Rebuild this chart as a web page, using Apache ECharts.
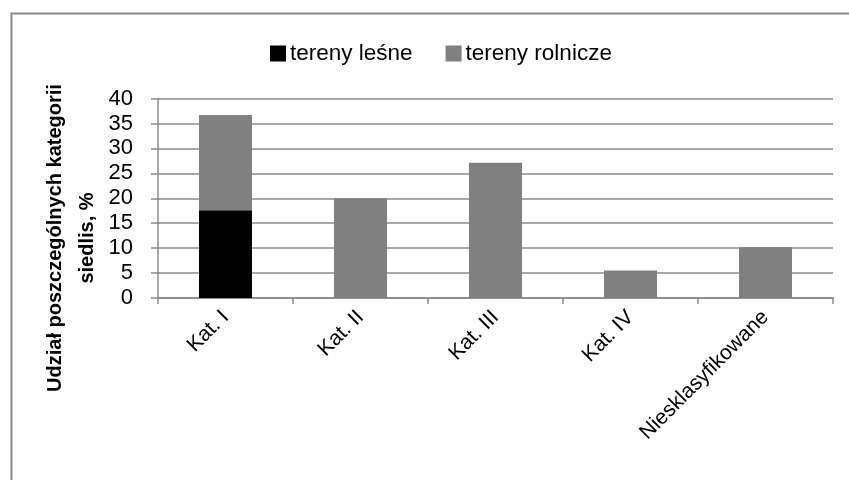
<!DOCTYPE html>
<html>
<head>
<meta charset="utf-8">
<script src="https://cdn.jsdelivr.net/npm/echarts@6/dist/echarts.min.js"></script>
<style>html,body{margin:0;padding:0;background:#fff;}#c{width:849px;height:480px;}</style>
</head>
<body>
<div id="c"></div>
<script>
const categories = ['Kat. I', 'Kat. II', 'Kat. III', 'Kat. IV', 'Niesklasyfikowane'];
const seriesNames = ['tereny leśne', 'tereny rolnicze'];
const lesne = [17.6, 0, 0, 0, 0];
const rolnicze = [19.1, 20.0, 27.1, 5.5, 10.2];
const yTicks = [0, 5, 10, 15, 20, 25, 30, 35, 40];
const yTitle = 'Udział poszczególnych kategorii\nsiedlis, %';

const FONT = '"Liberation Sans", Arial, sans-serif';
const chart = echarts.init(document.getElementById('c'), null, {renderer: 'canvas'});
chart.setOption({
  animation: false,
  backgroundColor: '#fff',
  graphic: [{
    type: 'rect', left: 9, top: 11, z: -1,
    shape: {x: 0, y: 0, width: 900, height: 520},
    style: {fill: 'none', stroke: '#8a8a8a', lineWidth: 2}
  }, {
    type: 'text', x: 71, y: 238, rotation: Math.PI / 2,
    style: {
      text: yTitle, font: 'bold 20px ' + FONT, fill: '#000',
      align: 'center', verticalAlign: 'middle', lineHeight: 32
    }
  }],
  legend: {
    top: 37, left: 265,
    itemWidth: 16, itemHeight: 16, itemGap: 33,
    icon: 'rect',
    textStyle: {fontFamily: FONT, fontSize: 22.5, color: '#000', padding: [0, 0, 0, -1]},
    data: seriesNames
  },
  grid: {left: 158, right: 16, top: 98.5, bottom: 182, containLabel: false},
  xAxis: {
    type: 'category', data: categories,
    axisLine: {lineStyle: {color: '#8a8a8a', width: 1.5}},
    axisTick: {show: true, length: 6, lineStyle: {color: '#8a8a8a', width: 1.5}},
    axisLabel: {rotate: 45, fontFamily: FONT, fontSize: 21, color: '#000', margin: 16, interval: 0}
  },
  yAxis: {
    type: 'value', min: yTicks[0], max: yTicks[yTicks.length - 1], interval: 5,
    axisLine: {show: true, lineStyle: {color: '#8a8a8a', width: 1.5}},
    axisTick: {show: true, length: 7, lineStyle: {color: '#8a8a8a', width: 1.5}},
    axisLabel: {fontFamily: FONT, fontSize: 22, color: '#000', margin: 25},
    splitLine: {show: true, lineStyle: {color: '#8a8a8a', width: 1.5}}
  },
  series: [
    {name: seriesNames[0], type: 'bar', stack: 's', data: lesne, barWidth: 53,
     itemStyle: {color: '#000000'}},
    {name: seriesNames[1], type: 'bar', stack: 's', data: rolnicze, barWidth: 53,
     itemStyle: {color: '#808080'}}
  ]
});
</script>
</body>
</html>
